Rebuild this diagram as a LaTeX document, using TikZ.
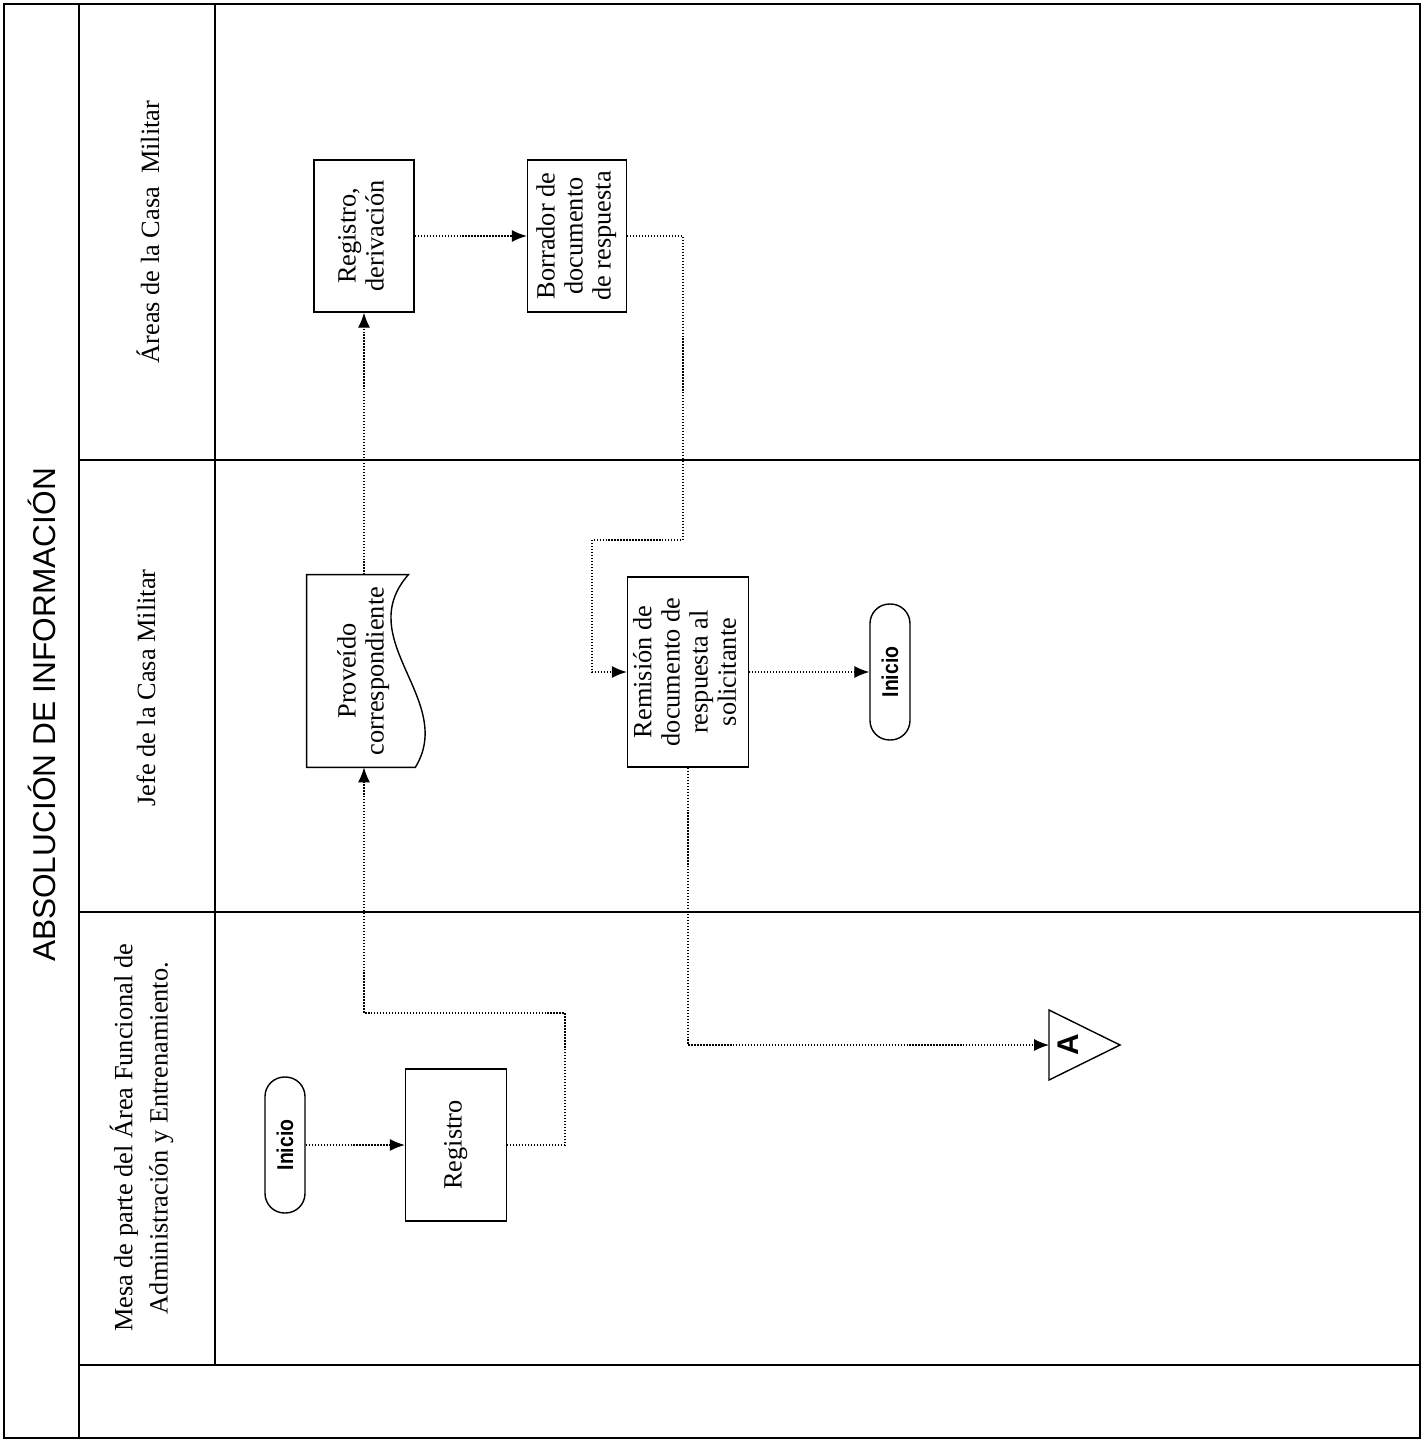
\documentclass[tikz,border=0pt]{standalone}
\usepackage{fontspec}
\setmainfont{Liberation Serif}
\setsansfont{Liberation Sans}
\newfontfamily\narrowsans[FakeStretch=0.85]{Liberation Sans}
\usepackage{graphicx}
\usetikzlibrary{arrows.meta,calc}
\newcommand{\vtext}[1]{\rotatebox{90}{\begin{tabular}{@{}c@{}}#1\end{tabular}}}

\begin{document}
\begin{tikzpicture}[
  x=0.02cm, y=-0.02cm,
  proc/.style={rectangle, draw, line width=0.8pt, inner sep=0pt,
               font=\fontsize{15}{16}\selectfont},
  docbox/.style={rectangle, inner sep=0pt,
               minimum width=2.28cm, minimum height=3.84cm,
               font=\fontsize{15}{16}\selectfont},
  term/.style={rectangle, draw, line width=0.8pt, rounded corners=0.39cm,
               minimum width=0.8cm, minimum height=2.72cm, inner sep=0pt,
               font=\narrowsans\bfseries\fontsize{13}{15}\selectfont},
  hdr/.style={inner sep=0pt, font=\fontsize{15}{20}\selectfont},
  lane/.style={line width=0.9pt},
  heavy/.style={line width=1.6pt},
  flow/.style={densely dotted, line width=0.7pt,
               -{Latex[length=0.3cm,width=0.24cm]}},
]
\useasboundingbox (0,0) rectangle (1424,1440);

% Frame and lanes
\draw[lane] (4,4) rectangle (1420,1438);
\draw[heavy] (79,4) -- (79,1438);
\draw[lane] (215,4) -- (215,1365);
\draw[lane] (79,460) -- (1420,460);
\draw[lane] (79,912) -- (1420,912);
\draw[heavy] (79,1365) -- (1420,1365);

\node[inner sep=0pt, font=\sffamily\fontsize{18}{20}\selectfont] (titulo) at (42,715)
  {\rotatebox{90}{ABSOLUCIÓN DE INFORMACIÓN}};
\node[hdr] (hdrAreas) at (152,232) {\vtext{Áreas de la Casa\ \ Militar}};
\node[hdr] (hdrJefe) at (148,688) {\vtext{Jefe de la Casa Militar}};
\node[hdr] (hdrMesa) at (143,1138)
  {\vtext{Mesa de parte del Área Funcional de\\Administración y Entrenamiento.}};

% Mesa de parte
\node[term] (inicioA) at (285,1145) {\rotatebox{90}{Inicio}};
\node[proc, minimum width=2.02cm, minimum height=3.04cm] (registro) at (456,1145)
  {\vtext{Registro}};

% Jefe
\node[docbox] (proveido) at (364,671) {\vtext{Proveído\\correspondiente}\hspace{0.5cm}};
\draw[line width=0.8pt] ([xshift=-0.26cm]proveido.north east)
  .. controls ([xshift=-1.4cm,yshift=-1.3cm]proveido.north east)
  and ([xshift=0.7cm,yshift=1.34cm]proveido.south east)
  .. ([xshift=-0.12cm]proveido.south east)
  -- (proveido.south west) -- (proveido.north west) -- cycle;
\node[proc, minimum width=2.42cm, minimum height=3.8cm] (remision) at (688,672)
  {\vtext{Remisión de\\documento de\\respuesta al\\solicitante}};
\node[term] (inicioB) at (890,672) {\rotatebox{90}{Inicio}};

% Areas
\node[proc, minimum width=2cm, minimum height=3.04cm] (derivacion) at (364,236)
  {\vtext{Registro,\\derivación}};
\node[proc, minimum width=1.98cm, minimum height=3.04cm] (borrador) at (577,236)
  {\vtext{Borrador de\\documento\\de respuesta}};

% Connector A
\coordinate (conA) at (1049,1045);
\node[inner sep=0pt, font=\sffamily\bfseries\fontsize{17}{18}\selectfont] (letraA) at (1068,1045)
  {\rotatebox{90}{A}};
\draw[line width=0.8pt] ([yshift=0.7cm]conA) -- ++(71,35) -- ++(-71,35) -- cycle;

% Flows
\coordinate (r1) at (565,1013);
\coordinate (b1) at (683,540);
\coordinate (b2) at (592,672);
\draw[flow] (inicioA) -- (registro);
\draw[flow] (registro.east) -| (r1) -| (proveido.south);
\draw[flow] (proveido.north) -- (derivacion.south);
\draw[flow] (derivacion) -- (borrador);
\draw[flow] (borrador.east) -| (b1) -| (b2) -- (remision.west);
\draw[flow] (remision) -- (inicioB);
\draw[flow] (remision.south) |- (conA);
\end{tikzpicture}
\end{document}
